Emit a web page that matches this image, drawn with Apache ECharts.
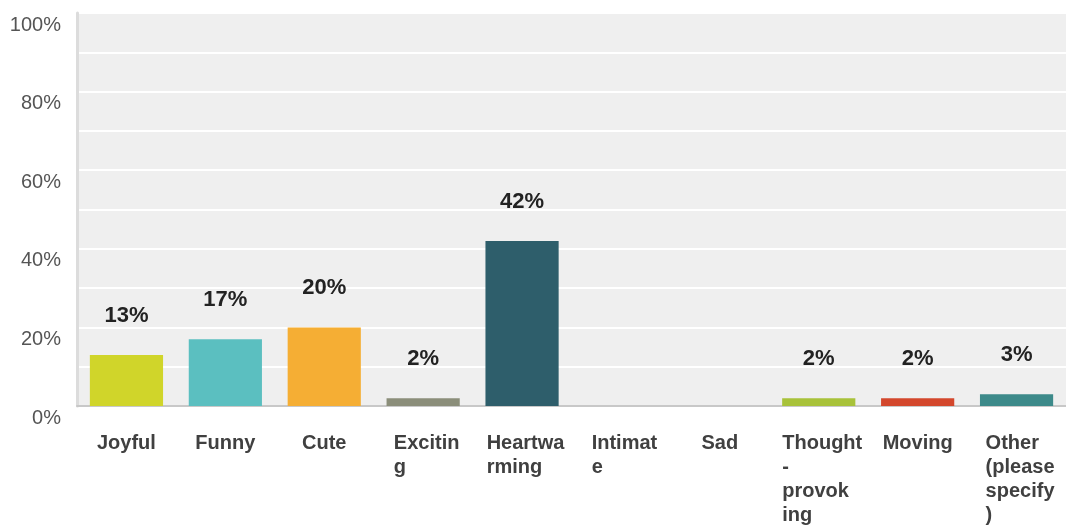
<!DOCTYPE html>
<html>
<head>
<meta charset="utf-8">
<style>
  html, body { margin: 0; padding: 0; background: #ffffff; }
  #chart { width: 1066px; height: 527px; }
</style>
<script src="https://cdn.jsdelivr.net/npm/echarts@6/dist/echarts.min.js"></script>
</head>
<body>
<div id="chart"></div>
<script>
// Answer choices and the share of respondents picking each one (percent)
const categories = ['Joyful', 'Funny', 'Cute', 'Exciting', 'Heartwarming', 'Intimate', 'Sad',
  'Thought-provoking', 'Moving', 'Other (please specify)'];
// Tick labels as they wrap under each bar
const tickLabels = ['Joyful', 'Funny', 'Cute', 'Excitin\ng', 'Heartwa\nrming', 'Intimat\ne', 'Sad',
  'Thought\n-\nprovok\ning', 'Moving', 'Other\n(please\nspecify\n)'];
const percents = [13, 17, 20, 2, 42, 0, 0, 2, 2, 3];
const barColors = ['#d0d52a', '#5bbfc0', '#f5ae34', '#8b8e7a', '#2e5e6b', '#8e6ba8', '#9aa0a6',
  '#a8c23a', '#d3472c', '#3d8a8a'];
const yTicks = [0, 20, 40, 60, 80, 100];

const FONT = '"Liberation Sans", Arial, Helvetica, sans-serif';
const catText = {
  fontFamily: FONT, fontSize: 20, fontWeight: 'bold', color: '#404040',
  lineHeight: 24, align: 'left'
};

const chart = echarts.init(document.getElementById('chart'), null, { renderer: 'canvas' });

chart.setOption({
  animation: false,
  backgroundColor: '#ffffff',
  grid: {
    left: 77, right: 0, top: 13, bottom: 121,
    show: true, backgroundColor: '#efefef', borderWidth: 0
  },
  xAxis: {
    type: 'category',
    data: categories,
    axisLine: { show: true, lineStyle: { color: '#c8c8c8', width: 2 } },
    axisTick: { show: false },
    splitLine: { show: false },
    axisLabel: {
      interval: 0,
      margin: 25,
      // wrapped labels sit a little right of the band centre, lines flush left
      formatter: (v, i) => {
        const s = tickLabels[i];
        return (s.indexOf('\n') >= 0 ? '{m|' : '{t|') + s + '}';
      },
      rich: {
        t: catText,
        m: Object.assign({}, catText, { padding: [0, 0, 0, 7] })
      }
    }
  },
  yAxis: {
    type: 'value',
    min: 0, max: 100, interval: 10,
    axisLine: { show: true, lineStyle: { color: '#dcdcdc', width: 3 } },
    axisTick: { show: false },
    splitLine: { show: true, lineStyle: { color: '#ffffff', width: 2 } },
    axisLabel: {
      margin: 16,
      fontFamily: FONT, fontSize: 20, color: '#555555',
      verticalAlign: 'top',
      lineHeight: 24,
      formatter: v => (yTicks.indexOf(v) >= 0 ? v + '%' : '')
    }
  },
  series: [{
    type: 'bar',
    data: percents.map((v, i) => ({ value: v, itemStyle: { color: barColors[i] } })),
    barWidth: '74%',
    label: {
      show: true,
      position: 'top',
      distance: 28,
      fontFamily: FONT, fontSize: 22, fontWeight: 'bold', color: '#222222',
      formatter: p => (p.value > 0 ? p.value + '%' : '')
    }
  }]
});
</script>
</body>
</html>
